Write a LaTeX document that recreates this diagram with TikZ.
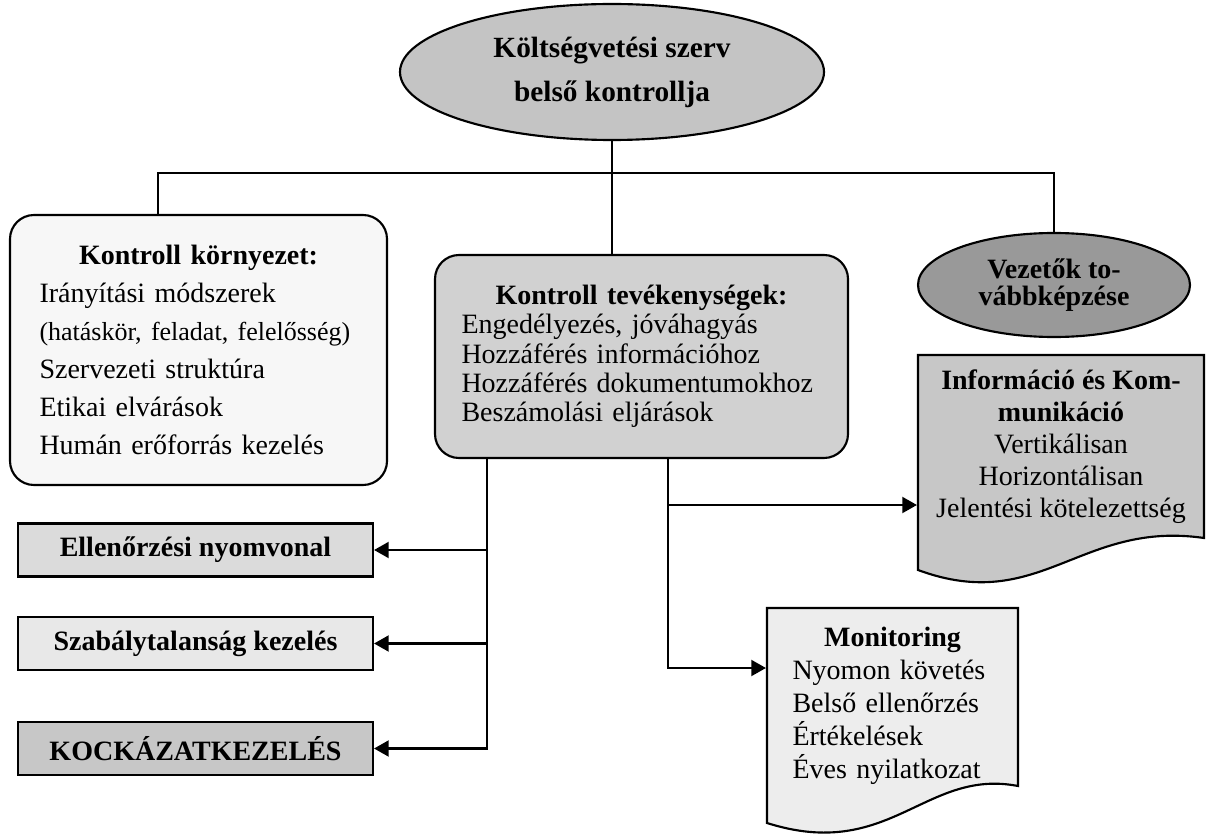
\documentclass[tikz,border=0pt]{standalone}
\usepackage{fontspec}
\setmainfont{Liberation Serif}
\usetikzlibrary{shapes.geometric,arrows.meta}

\newcommand{\cimsor}[1]{\makebox[\hsize]{\textbf{#1}}}

\begin{document}
\begin{tikzpicture}[x=0.75pt,y=-0.75pt,line width=1.6pt,
  tojas/.style={ellipse,draw,inner sep=0pt,align=center},
  kerek/.style={rectangle,rounded corners=18pt,draw,inner sep=0pt},
  sav/.style={rectangle,draw,inner sep=0pt,minimum width=266.25pt,minimum height=39.75pt,
    font=\fontsize{21}{24}\selectfont\bfseries},
  lista/.style={inner sep=0pt,font=\fontsize{21}{24}\selectfont},
  nyil/.style={-{Triangle[length=11pt,width=12pt]}}]
\useasboundingbox (0,0) rectangle (1206,834);

% lapok (hullamos also el)
\filldraw[fill=black!22] (918,355) -- (1204,355) -- (1204,538)
  .. controls (1080,520) and (1040,615) .. (918,570) -- cycle;
\filldraw[fill=black!7] (767,608) -- (1018,608) -- (1018,786)
  .. controls (925,768) and (890,862) .. (767,823) -- cycle;

\node[tojas,fill=black!23,minimum width=318pt,minimum height=102pt,
  font=\fontsize{22}{33}\selectfont\bfseries] (fo) at (612,72)
  {Költségvetési szerv\\belső kontrollja};
\node[kerek,fill=black!3,minimum width=282.75pt,minimum height=202.5pt,
  text width=238.5pt,align=left,font=\fontsize{21}{28.5}\selectfont] (kornyezet) at (198.5,350)
  {\cimsor{Kontroll környezet:}\\Irányítási módszerek\\
   {\fontsize{19.5}{28.5}\selectfont(hatáskör, feladat, felelősség)}\\
   Szervezeti struktúra\\Etikai elvárások\\Humán erőforrás kezelés};
\node[kerek,fill=black!18,minimum width=309.75pt,minimum height=152.25pt,
  text width=270pt,align=left,font=\fontsize{21}{22}\selectfont] (tevekeny) at (641.5,356.5)
  {\cimsor{Kontroll tevékenységek:}\\Engedélyezés, jóváhagyás\\Hozzáférés információhoz\\
   Hozzáférés dokumentumokhoz\\Beszámolási eljárások};
\node[tojas,fill=black!40,minimum width=204pt,minimum height=78pt,
  font=\fontsize{21}{20}\selectfont\bfseries] (vezetok) at (1054,285)
  {Vezetők to-\\vábbképzése};
\node[lista,minimum width=214.5pt,minimum height=137.25pt,align=center] (info) at (1061,446.5)
  {\textbf{Információ és Kom-}\\\textbf{munikáció}\\Vertikálisan\\Horizontálisan\\Jelentési kötelezettség};
\node[lista,minimum width=188.25pt,minimum height=142.5pt,text width=150pt,align=left,
  font=\fontsize{21}{24.75}\selectfont] (monitoring) at (892.5,705.5)
  {\cimsor{Monitoring}\\Nyomon követés\\Belső ellenőrzés\\Értékelések\\Éves nyilatkozat};

\node[sav,fill=black!14] (ellenorzes) at (195.5,550) {Ellenőrzési nyomvonal};
\node[sav,fill=black!9] (szabaly) at (195.5,643.5) {Szabálytalanság kezelés};
\node[sav,fill=black!22] (kockazat) at (195.5,748.5) {KOCKÁZATKEZELÉS};

% osszekotesek
\coordinate (elosztas) at (612,173);
\coordinate (balag) at (158,173);
\draw (fo) -- (elosztas);
\draw (balag |- kornyezet.north) -- (balag) -| (vezetok.north);
\draw (elosztas) -- (elosztas |- tevekeny.north);

\coordinate (gerinc) at (487,748.5);
\draw[nyil] (tevekeny.south -| gerinc) |- (kockazat.east);
\draw[nyil] (ellenorzes.east -| gerinc) -- (ellenorzes.east);
\draw[nyil] (szabaly.east -| gerinc) -- (szabaly.east);

\coordinate (jobbag) at (668,668);
\coordinate (infoag) at (668,505);
\draw[nyil] (tevekeny.south -| jobbag) -- (jobbag) -- (jobbag -| monitoring.west);
\draw[nyil] (infoag) -- (infoag -| info.west);
\end{tikzpicture}
\end{document}
